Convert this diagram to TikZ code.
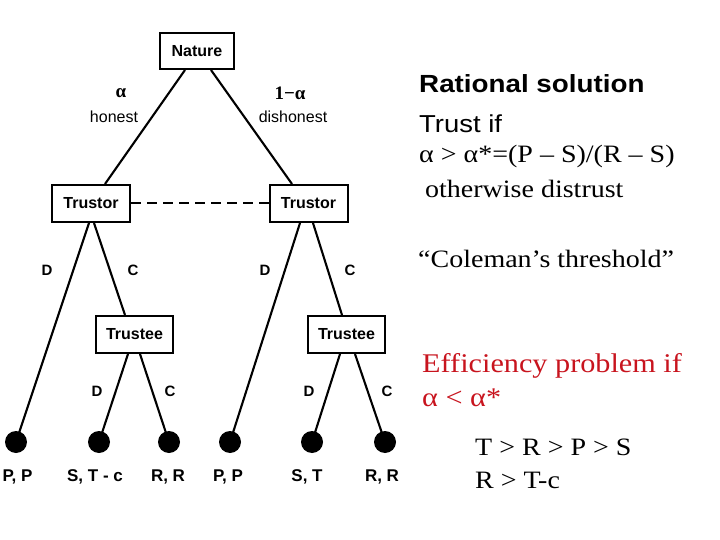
\documentclass[tikz,border=0pt]{standalone}
\usepackage{fontspec}
\setmainfont{Liberation Serif}
\newfontfamily\arial{Liberation Sans}
\newfontfamily\wtimes[FakeStretch=1.12]{Liberation Serif}
\newfontfamily\warial[FakeStretch=1.12]{Liberation Sans}
\begin{document}
\begin{tikzpicture}[x=1pt,y=-1pt,
  box/.style={draw, line width=2pt, inner sep=0pt, font=\arial\bfseries\fontsize{16}{18}\selectfont},
  edge/.style={line width=2.1pt},
  leaf/.style={circle, fill=black, minimum size=22pt, inner sep=0pt},
  lab/.style={font=\arial\bfseries\fontsize{15}{18}\selectfont, inner sep=0pt},
  pay/.style={font=\arial\bfseries\fontsize{17}{18}\selectfont, inner sep=0pt},
  plab/.style={font=\arial\fontsize{16}{18}\selectfont, inner sep=0pt},
  glab/.style={font=\bfseries\fontsize{19}{20}\selectfont, inner sep=0pt},
  rtxt/.style={anchor=base west, inner sep=0pt},
]
\useasboundingbox (0,0) rectangle (720,540);
% boxes
\node[box, minimum width=74pt, minimum height=36pt] (nat) at (197,51) {Nature};
\node[box, minimum width=78pt, minimum height=37pt] (tl) at (91,203.5) {Trustor};
\node[box, minimum width=78pt, minimum height=37pt] (tr) at (308.5,203.5) {Trustor};
\node[box, minimum width=77pt, minimum height=37pt] (el) at (134.5,334.5) {Trustee};
\node[box, minimum width=77pt, minimum height=37pt] (er) at (346.5,334.5) {Trustee};
% leaves
\node[leaf] (l1) at (16,442) {};
\node[leaf] (l2) at (99,442) {};
\node[leaf] (l3) at (169,442) {};
\node[leaf] (l4) at (230,442) {};
\node[leaf] (l5) at (312,442) {};
\node[leaf] (l6) at (385,442) {};
% edges
\draw[edge] ([xshift=-12pt]nat.south) -- ([xshift=14pt]tl.north);
\draw[edge] ([xshift=14pt]nat.south) -- ([xshift=-16.5pt]tr.north);
\draw[edge] ([xshift=-2pt]tl.south) -- (l1.center);
\draw[edge] ([xshift=3pt]tl.south) -- ([xshift=-9.5pt]el.north);
\draw[edge] ([xshift=-6.5pt]el.south) -- (l2.center);
\draw[edge] ([xshift=5.5pt]el.south) -- (l3.center);
\draw[edge] ([xshift=-8.5pt]tr.south) -- (l4.center);
\draw[edge] ([xshift=4.5pt]tr.south) -- ([xshift=-4.5pt]er.north);
\draw[edge] ([xshift=-6.5pt]er.south) -- (l5.center);
\draw[edge] ([xshift=8.5pt]er.south) -- (l6.center);
\draw[line width=2pt, dash pattern=on 10pt off 6pt] (tl.east) -- (tr.west);
% nature labels
\node[glab] (a1) at (121,93) {α};
\node[plab] (h1) at (114,117) {honest};
\node[glab] (a2) at (290,93) {1−α};
\node[plab] (h2) at (293,117) {dishonest};
% action labels
\node[lab] (d1) at (47,270) {D};
\node[lab] (c1) at (133,270) {C};
\node[lab] (d2) at (265,270) {D};
\node[lab] (c2) at (350,270) {C};
\node[lab] (d3) at (97,391) {D};
\node[lab] (c3) at (170,391) {C};
\node[lab] (d4) at (309,391) {D};
\node[lab] (c4) at (387,391) {C};
% payoffs
\node[pay] (p1) at (17.5,477) {P, P};
\node[pay] (p2) at (95,477) {S, T - c};
\node[pay] (p3) at (168,477) {R, R};
\node[pay] (p4) at (228,477) {P, P};
\node[pay] (p5) at (307,477) {S, T};
\node[pay] (p6) at (382,477) {R, R};
% right text
\node[rtxt, font=\warial\bfseries\fontsize{24.8}{28}\selectfont] (t1) at (419,93) {Rational solution};
\node[rtxt, font=\warial\fontsize{24.5}{28}\selectfont] (t2) at (419,133) {Trust if};
\node[rtxt, font=\wtimes\fontsize{25}{28}\selectfont] (t3) at (419,163) {α > α*=(P – S)/(R – S)};
\node[rtxt, font=\wtimes\fontsize{25}{28}\selectfont] (t4) at (425,198) {otherwise distrust};
\node[rtxt, font=\wtimes\fontsize{25}{28}\selectfont] (t5) at (418,267) {“Coleman’s threshold”};
\node[rtxt, font=\wtimes\fontsize{27}{28}\selectfont, text={rgb,255:red,200;green,20;blue,30}] (t6) at (422,372) {Efficiency problem if};
\node[rtxt, font=\wtimes\fontsize{27}{28}\selectfont, text={rgb,255:red,200;green,20;blue,30}] (t7) at (422,406) {α < α*};
\node[rtxt, font=\wtimes\fontsize{25}{28}\selectfont] (t8) at (475,455) {T > R > P > S};
\node[rtxt, font=\wtimes\fontsize{25}{28}\selectfont] (t9) at (475,488) {R > T-c};
\end{tikzpicture}
\end{document}
